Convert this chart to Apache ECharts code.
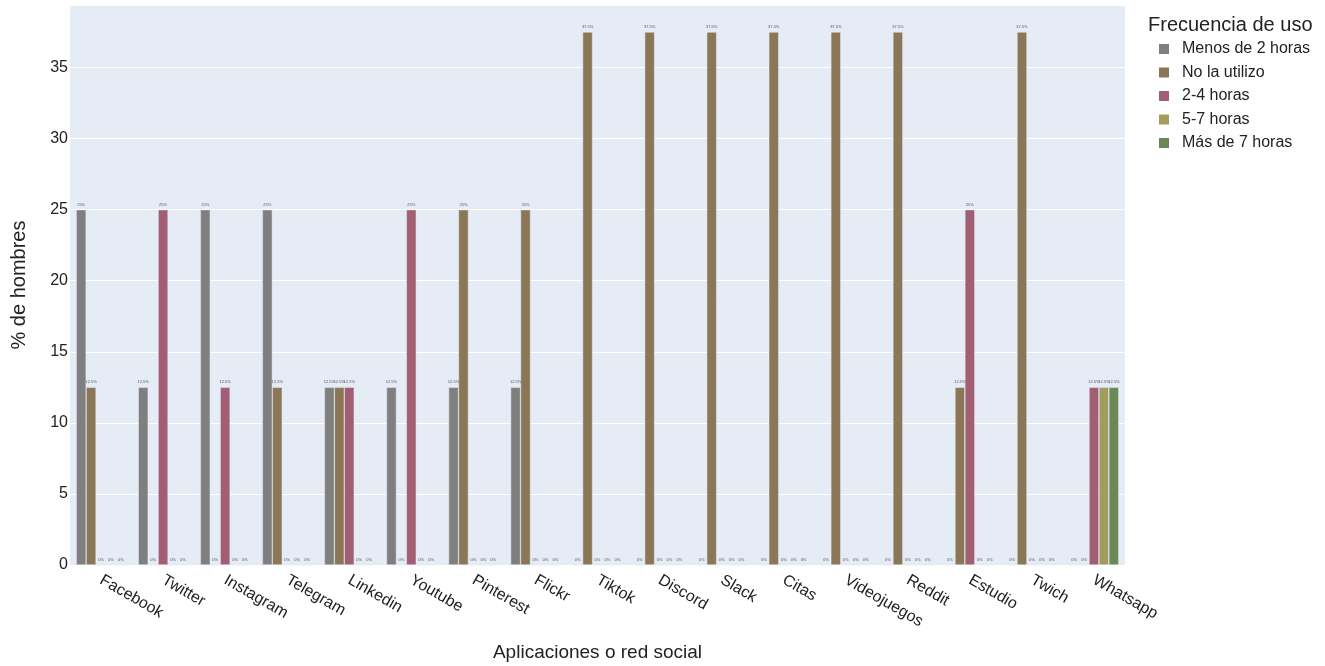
<!DOCTYPE html>
<html>
<head>
<meta charset="utf-8">
<script src="https://cdn.jsdelivr.net/npm/echarts@6/dist/echarts.min.js"></script>
<style>html,body{margin:0;padding:0;background:#fff}#c{width:1325px;height:666px}</style>
</head>
<body>
<div id="c"></div>
<script>
const categories = ['Facebook','Twitter','Instagram','Telegram','Linkedin','Youtube','Pinterest','Flickr','Tiktok','Discord','Slack','Citas','Videojuegos','Reddit','Estudio','Twich','Whatsapp'];
const seriesNames = ['Menos de 2 horas','No la utilizo','2-4 horas','5-7 horas','Más de 7 horas'];
const menos2   = [25,12.5,25,25,12.5,12.5,12.5,12.5,0,0,0,0,0,0,0,0,0];
const noUtiliz = [12.5,0,0,12.5,12.5,0,25,25,37.5,37.5,37.5,37.5,37.5,37.5,12.5,37.5,0];
const h2a4     = [0,25,12.5,0,12.5,25,0,0,0,0,0,0,0,0,25,0,12.5];
const h5a7     = [0,0,0,0,0,0,0,0,0,0,0,0,0,0,0,0,12.5];
const mas7     = [0,0,0,0,0,0,0,0,0,0,0,0,0,0,0,0,12.5];
const colors = ['#7f7f7f','#8b7757','#a25e72','#a29d5d','#6b8858'];
const yTicks = [0,5,10,15,20,25,30,35];

const FONT = "'Liberation Sans', Arial, sans-serif";
const TXT = '#222';
const values = [menos2, noUtiliz, h2a4, h5a7, mas7];

const chart = echarts.init(document.getElementById('c'), null, {renderer:'canvas'});
chart.setOption({
  animation: false,
  textStyle: {fontFamily: FONT},
  color: colors,
  title: {
    text: 'Frecuencia de uso', left: 1148, top: 15, padding: 0,
    textStyle: {fontFamily: FONT, fontSize: 20, fontWeight: 'normal', color: TXT}
  },
  legend: {
    orient: 'vertical', left: 1154, top: 36,
    itemWidth: 10, itemHeight: 10, itemGap: 7.5,
    icon: 'rect',
    itemStyle: {borderWidth: 0},
    textStyle: {fontFamily: FONT, fontSize: 16, color: TXT, padding: [0,0,0,8]},
    data: seriesNames
  },
  grid: {left: 70, right: 200, top: 5, bottom: 101, containLabel: false, outerBoundsMode: 'none',
    show: true, backgroundColor: '#E5ECF6', borderWidth: 0},
  xAxis: {
    type: 'category', data: categories,
    name: 'Aplicaciones o red social', nameLocation: 'middle', nameGap: 78,
    nameTextStyle: {fontFamily: FONT, fontSize: 19, color: TXT},
    axisLine: {show: false}, axisTick: {show: false},
    axisLabel: {rotate: -30, fontFamily: FONT, fontSize: 16, color: TXT, margin: 14, interval: 0},
    splitLine: {show: false}
  },
  yAxis: {
    type: 'value', min: 0, max: 39.4, interval: 5,
    name: '% de hombres', nameLocation: 'middle', nameGap: 41,
    nameTextStyle: {fontFamily: FONT, fontSize: 20, color: TXT},
    axisLine: {show: false}, axisTick: {show: false},
    axisLabel: {fontFamily: FONT, fontSize: 16, color: TXT, margin: 2,
      formatter: v => yTicks.includes(v) ? String(v) : ''},
    splitLine: {lineStyle: {color: '#ffffff', width: 1}}
  },
  series: seriesNames.map((n, i) => ({
    name: n, type: 'bar', data: values[i],
    barGap: '0%', barCategoryGap: '20%',
    itemStyle: {color: colors[i], borderColor: '#E5ECF6', borderWidth: 0.5},
    label: {show: true, position: 'top', distance: 3, fontSize: 4, fontFamily: FONT, color: '#555',
      formatter: p => p.value + '%'}
  }))
});
</script>
</body>
</html>
